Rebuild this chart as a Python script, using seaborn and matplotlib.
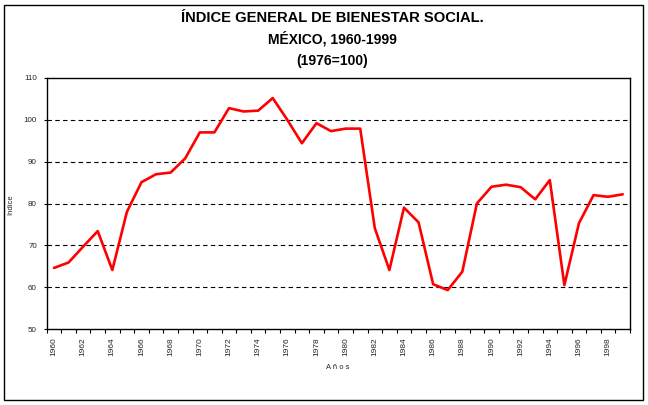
import numpy as np
import pandas as pd
import matplotlib
matplotlib.use("Agg")
import matplotlib.pyplot as plt
import seaborn as sns
from matplotlib.patches import Rectangle

years = list(range(1960, 2000))
index_values = [64.6, 65.9, 69.7, 73.4, 64.1, 78.0, 85.1, 87.0, 87.4, 90.8,
                97.0, 97.0, 102.8, 102.0, 102.2, 105.2, 100.0, 94.4, 99.2, 97.3,
                97.9, 97.9, 74.1, 64.1, 79.0, 75.5, 60.7, 59.3, 63.7, 80.0,
                84.0, 84.5, 83.9, 81.0, 85.6, 60.5, 75.3, 82.0, 81.6, 82.2]
y_ticks = [50, 60, 70, 80, 90, 100, 110]
x_tick_years = list(range(1960, 2000, 2))
title_lines = ["ÍNDICE GENERAL DE BIENESTAR SOCIAL.", "MÉXICO, 1960-1999", "(1976=100)"]

df = pd.DataFrame({"Año": years, "Indice": index_values})

sns.set_theme(style="white")
plt.rcParams["font.family"] = ["Liberation Sans", "DejaVu Sans"]

W, H = 648, 405
fig = plt.figure(figsize=(W / 100, H / 100), dpi=100)
fig.patch.set_facecolor("white")
ax = fig.add_axes([46.7 / W, 1 - 329 / H, (630 - 46.7) / W, (329 - 78) / H])

sns.lineplot(data=df, x="Año", y="Indice", ax=ax, color="#ff0000", linewidth=1.9)

ax.set_xlim(1959.5, 1999.5)
ax.set_ylim(50, 110)
ax.set_yticks(y_ticks)
ax.set_yticklabels([str(t) for t in y_ticks], fontsize=5.8)
ax.set_xticks(x_tick_years)
ax.set_xticklabels([str(y) for y in x_tick_years], rotation=90, fontsize=6)
ax.set_xticks(np.arange(1959.5, 2000.0, 1.0), minor=True)
ax.tick_params(axis="x", which="major", length=0, pad=6)
ax.tick_params(axis="x", which="minor", length=3, width=0.8, color="black", direction="out", bottom=True)
ax.tick_params(axis="y", which="major", length=2, width=0.8, color="black", direction="out", left=True, pad=5)

for v in y_ticks[1:-1]:
    ax.axhline(v, color="black", linestyle=(0, (4, 3)), linewidth=0.8, zorder=0)

for s in ax.spines.values():
    s.set_visible(True)
    s.set_color("black")
    s.set_linewidth(1.0)

ax.set_xlabel("A ñ o s", fontsize=5.5)
ax.set_ylabel("Indice", fontsize=5.5)
ax.xaxis.set_label_coords((338 - 46.7) / (630 - 46.7), -(364 - 329) / (329 - 78))
ax.yaxis.set_label_coords(-(46.7 - 14) / (630 - 46.7), (329 - 205) / (329 - 78))

tys = [18, 39, 61]
sizes = [10.6, 10, 10]
for t, yy, fs in zip(title_lines, tys, sizes):
    fig.text(332 / W, 1 - yy / H, t, ha="center", va="center", fontsize=fs,
             fontweight="bold", color="black")

fig.patches.append(Rectangle((4.3 / W, 1 - 400 / H), (642.7 - 4.3) / W, (400 - 4.7) / H,
                             transform=fig.transFigure, fill=False, edgecolor="black",
                             linewidth=1.0))

fig.savefig("out.png", dpi=100)
